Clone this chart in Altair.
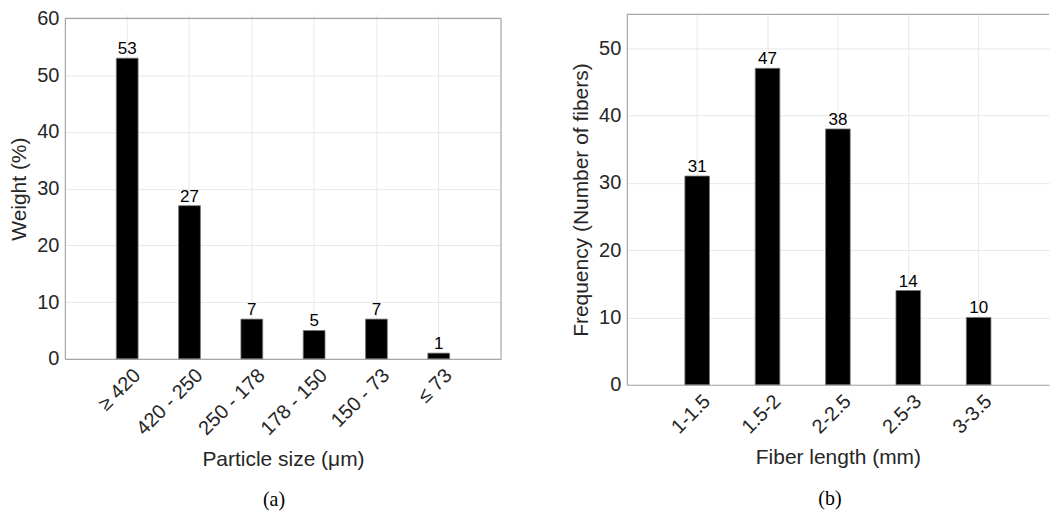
import altair as alt
import pandas as pd

size_labels = ["≥ 420", "420 - 250", "250 - 178", "178 - 150", "150 - 73", "≤ 73"]
weight_pct = [53, 27, 7, 5, 7, 1]
fiber_labels = ["1-1.5", "1.5-2", "2-2.5", "2.5-3", "3-3.5"]
fiber_counts = [31, 47, 38, 14, 10]

FONT = "Liberation Sans"
TXT = "#262626"
GRID = "#e8e8e8"
EDGE = "#a6a6a6"


def panel(cats, vals, xtitle, ytitle, ymax, w, h, top_off, caption, dx, right_border):
    df = pd.DataFrame({"cat": cats, "val": vals})
    pi = 0.65
    po = 0.5 + pi / 2
    x = alt.X(
        "cat:N",
        sort=cats,
        scale=alt.Scale(paddingInner=pi, paddingOuter=po),
        axis=alt.Axis(
            title=xtitle,
            labelAngle=315,
            labelAlign="right",
            labelBaseline="top",
            labelPadding=6,
            labelOffset=3,
            ticks=False,
            grid=True,
            bandPosition=0.5,
            titlePadding=10,
        ),
    )
    y = alt.Y(
        "val:Q",
        scale=alt.Scale(domain=[0, ymax], nice=False, range=[h, top_off]),
        axis=alt.Axis(
            title=ytitle,
            values=list(range(0, int(ymax) + 1, 10)),
            ticks=False,
            grid=True,
            labelPadding=6,
            titlePadding=7,
        ),
    )
    base = alt.Chart(df).encode(x=x, y=y)
    bars = base.mark_bar(color="black", stroke="#7a7a7a", strokeWidth=0.8)
    text = base.mark_text(dy=-9, fontSize=17, font=FONT, color="black").encode(text="val:Q")
    frame = pd.DataFrame({"top": [ymax], "zero": [0]})
    top = alt.Chart(frame).mark_rule(color=EDGE, strokeWidth=1.2).encode(y=alt.Y("top:Q"))
    layers = [top]
    if right_border:
        rb = alt.Chart(frame).mark_rule(color=EDGE, strokeWidth=1.2).encode(
            x=alt.value(w), y=alt.Y("top:Q"), y2=alt.Y2("zero:Q")
        )
        layers.append(rb)
    layers += [bars, text]
    ch = alt.layer(*layers).properties(
        width=w,
        height=h,
        title=alt.TitleParams(
            text=caption,
            orient="bottom",
            font="Liberation Serif",
            fontSize=20,
            fontWeight="normal",
            color="black",
            offset=21,
            frame="group",
            anchor="middle",
            dx=dx,
        ),
    )
    return ch


pa = panel(size_labels, weight_pct, "Particle size (μm)", "Weight (%)", 60, 437, 345, 4, "(a)", -9, True)
pb = panel(fiber_labels, fiber_counts, "Fiber length (mm)", "Frequency (Number of fibers)", 55, 423, 371, 0, "(b)", -8, False)

chart = (
    alt.hconcat(pa, pb, spacing=68)
    .properties(padding={"left": 0, "top": 0, "right": 0, "bottom": 0})
    .configure_axis(
        labelFont=FONT,
        titleFont=FONT,
        labelFontSize=20,
        titleFontSize=21,
        titleFontWeight="normal",
        labelColor=TXT,
        titleColor=TXT,
        domainColor=EDGE,
        domainWidth=1.2,
        gridColor=GRID,
        gridWidth=1,
    )
    .configure_view(stroke=None)
)

chart.save("out.html", embed_options={"renderer": "svg", "actions": False})
